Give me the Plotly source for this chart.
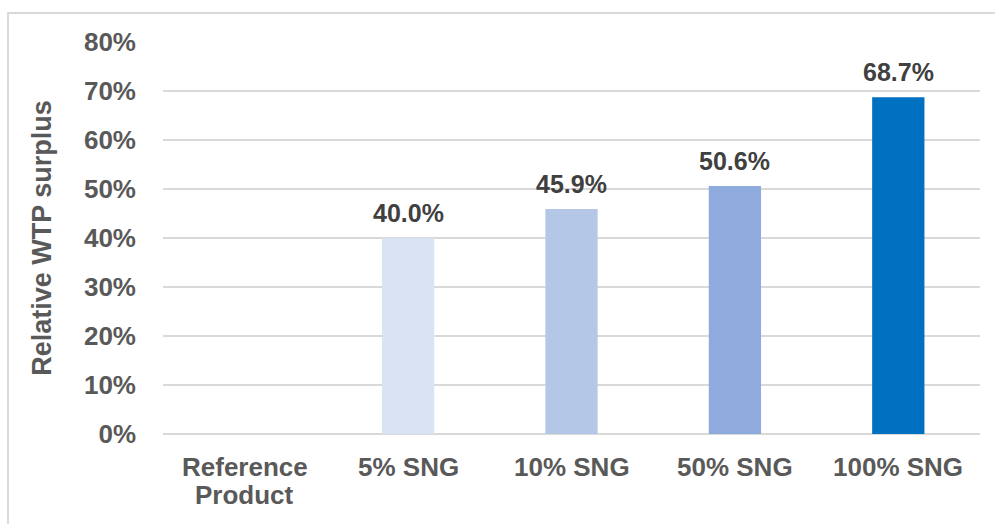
import plotly.graph_objects as go

categories = ["Reference<br>Product", "5% SNG", "10% SNG", "50% SNG", "100% SNG"]
surplus = [0.0, 0.400, 0.459, 0.506, 0.687]
labels = ["", "40.0%", "45.9%", "50.6%", "68.7%"]
bar_colors = ["#DAE3F3", "#DAE3F3", "#B4C7E7", "#8FAADC", "#0070C0"]
y_ticks = [0, 0.1, 0.2, 0.3, 0.4, 0.5, 0.6, 0.7, 0.8]
y_tick_text = ["0%", "10%", "20%", "30%", "40%", "50%", "60%", "70%", "80%"]

W, H = 995, 524
L, R, T, B = 163, 15, 42, 90
pw, ph = W - L - R, H - T - B

FAMILY = "Liberation Sans, Arial, sans-serif"
font = dict(family=FAMILY, size=26, color="#595959", weight="bold")

fig = go.Figure(
    go.Bar(
        x=categories,
        y=surplus,
        marker=dict(color=bar_colors, line=dict(width=0)),
        width=0.32,
        hoverinfo="x+y",
    )
)

# value labels sitting above each bar
for cat, val, lab in zip(categories, surplus, labels):
    if lab:
        fig.add_annotation(
            x=cat, y=val, text=lab, showarrow=False,
            yanchor="bottom", yshift=9,
            font=dict(family=FAMILY, size=25, color="#404040", weight="bold"),
        )

# category names under the axis, one annotation per line for tight line spacing
for cat in categories:
    for i, line in enumerate(cat.split("<br>")):
        fig.add_annotation(
            x=cat, xref="x", y=0, yref="paper", text=line, showarrow=False,
            yanchor="middle", yshift=-33 - 28 * i, font=font,
        )

# light frame around the chart area
fig.add_shape(
    type="rect", xref="paper", yref="paper",
    x0=(8 - L) / pw, x1=(W + 10 - L) / pw,
    y0=(T + ph - (H + 10)) / ph, y1=(T + ph - 13) / ph,
    line=dict(color="#D9D9D9", width=2), fillcolor="rgba(0,0,0,0)", layer="below",
)

fig.update_layout(
    width=W, height=H,
    margin=dict(l=L, r=R, t=T, b=B),
    paper_bgcolor="white", plot_bgcolor="white",
    font=font,
    showlegend=False,
    xaxis=dict(
        showgrid=False, showline=False, zeroline=False, ticks="",
        showticklabels=False,
    ),
    yaxis=dict(
        range=[0, 0.8], tickvals=y_ticks, ticktext=y_tick_text,
        showgrid=True, gridcolor="#D9D9D9", gridwidth=1.5,
        zeroline=True, zerolinecolor="#D9D9D9", zerolinewidth=1.5,
        showline=False, ticks="",
        tickfont=font,
        ticklabelstandoff=26,
        title=dict(text="Relative WTP surplus", standoff=24,
                   font=dict(family=FAMILY, size=27, color="#595959", weight="bold")),
    ),
)

fig.write_html("out.html")
